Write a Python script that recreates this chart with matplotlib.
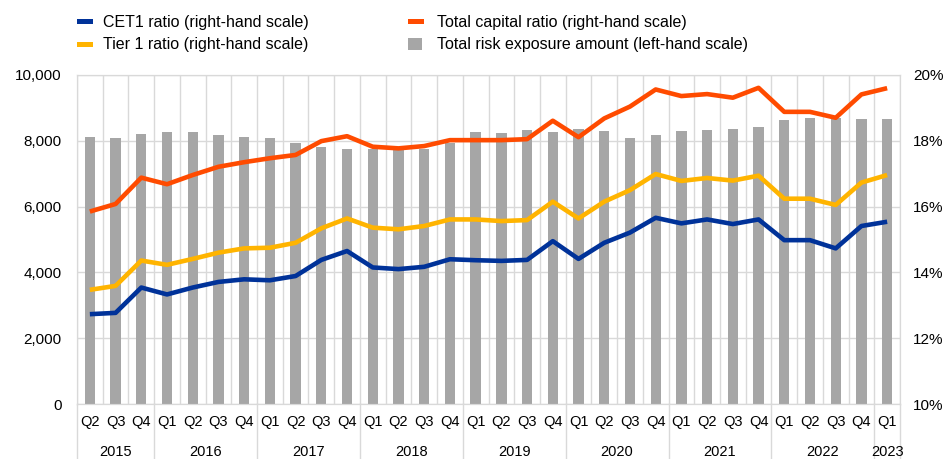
import matplotlib
matplotlib.use("Agg")
import matplotlib.pyplot as plt
from matplotlib.patches import Rectangle
from matplotlib.ticker import FuncFormatter, MultipleLocator
import matplotlib.transforms as mtransforms

plt.rcParams['font.family'] = ['Liberation Sans', 'DejaVu Sans']

quarters = ["Q2", "Q3", "Q4",
            "Q1", "Q2", "Q3", "Q4",
            "Q1", "Q2", "Q3", "Q4",
            "Q1", "Q2", "Q3", "Q4",
            "Q1", "Q2", "Q3", "Q4",
            "Q1", "Q2", "Q3", "Q4",
            "Q1", "Q2", "Q3", "Q4",
            "Q1", "Q2", "Q3", "Q4",
            "Q1"]
years = ["2015", "2016", "2017", "2018", "2019", "2020", "2021", "2022", "2023"]
quarters_per_year = [3, 4, 4, 4, 4, 4, 4, 4, 1]

trea = [8125, 8075, 8197, 8258, 8268, 8176, 8106, 8095, 7933, 7812, 7751,
        7741, 7720, 7751, 7943, 8268, 8237, 8328, 8258, 8370, 8298, 8085,
        8166, 8298, 8339, 8359, 8410, 8642, 8703, 8690, 8652, 8662]
total_capital = [15.85, 16.08, 16.88, 16.68, 16.96, 17.21, 17.35, 17.47, 17.57, 17.99, 18.14,
                 17.82, 17.77, 17.84, 18.02, 18.02, 18.02, 18.05, 18.61, 18.11, 18.68, 19.04,
                 19.56, 19.36, 19.42, 19.31, 19.61, 18.88, 18.88, 18.70, 19.41, 19.60]
tier1 = [13.47, 13.59, 14.36, 14.23, 14.41, 14.60, 14.73, 14.75, 14.90, 15.34, 15.64,
         15.36, 15.31, 15.41, 15.61, 15.61, 15.56, 15.59, 16.15, 15.64, 16.15, 16.50,
         16.99, 16.78, 16.87, 16.79, 16.94, 16.24, 16.24, 16.05, 16.73, 16.96]
cet1 = [12.73, 12.77, 13.54, 13.33, 13.54, 13.71, 13.79, 13.76, 13.89, 14.38, 14.65,
        14.15, 14.10, 14.17, 14.40, 14.37, 14.35, 14.38, 14.95, 14.41, 14.90, 15.21,
        15.66, 15.49, 15.61, 15.47, 15.61, 14.98, 14.98, 14.73, 15.41, 15.54]

BLUE = "#003299"
YELLOW = "#FFB400"
ORANGE = "#FF4B00"
GREY = "#A6A6A6"
GRID = "#D9D9D9"

W, H = 947, 459
fig = plt.figure(figsize=(W / 100, H / 100), dpi=100)
L, R, T, B = 77, 900, 75, 404
ax = fig.add_axes([L / W, 1 - B / H, (R - L) / W, (B - T) / H])
ax2 = ax.twinx()

n = len(quarters)
x = list(range(n))

ax.bar(x, trea, width=0.4, color=GREY, zorder=2)
ax.set_ylim(0, 10000)
ax.set_xlim(-0.5, n - 0.5)
ax.yaxis.set_major_locator(MultipleLocator(2000))
ax.yaxis.set_major_formatter(FuncFormatter(lambda v, p: f"{int(v):,}"))
ax.grid(axis='y', color=GRID, linewidth=1, zorder=0)
ax.set_axisbelow(True)
for b in range(n + 1):
    ax.axvline(b - 0.5, color=GRID, linewidth=1, zorder=0)

ax2.plot(x, cet1, color=BLUE, linewidth=3.3, solid_capstyle='butt', zorder=3)
ax2.plot(x, tier1, color=YELLOW, linewidth=3.3, solid_capstyle='butt', zorder=3)
ax2.plot(x, total_capital, color=ORANGE, linewidth=3.3, solid_capstyle='butt', zorder=3)
ax2.set_ylim(10, 20)
ax2.yaxis.set_major_locator(MultipleLocator(2))
ax2.yaxis.set_major_formatter(FuncFormatter(lambda v, p: f"{int(v)}%"))

for a in (ax, ax2):
    for s in a.spines.values():
        s.set_color(GRID)
    a.tick_params(length=0, labelsize=11, colors="black")
ax.tick_params(axis='y', pad=11)
ax2.tick_params(axis='y', pad=9.5)

ax.set_xticks(x)
ax.set_xticklabels(quarters)
ax.tick_params(axis='x', pad=8, labelsize=10.5)

trans = mtransforms.blended_transform_factory(ax.transData, ax.transAxes)
bottom_frac = -(H - B) / (B - T)
year_y = -(452 - B) / (B - T)
start = 0
for yr, cnt in zip(years, quarters_per_year):
    ax.plot([start - 0.5, start - 0.5], [0, bottom_frac], transform=trans,
            color=GRID, linewidth=1, clip_on=False, zorder=0)
    ax.text(start - 0.5 + cnt / 2, year_y, yr, transform=trans,
            ha='center', va='center', fontsize=10.5)
    start += cnt
ax.plot([start - 0.5, start - 0.5], [0, bottom_frac], transform=trans,
        color=GRID, linewidth=1, clip_on=False, zorder=0)

def px_rect(x0, y0, x1, y1, color):
    fig.add_artist(Rectangle((x0 / W, 1 - y1 / H), (x1 - x0) / W, (y1 - y0) / H,
                             transform=fig.transFigure, color=color, lw=0))

def px_text(x0, yc, s):
    fig.text(x0 / W, 1 - yc / H, s, ha='left', va='center', fontsize=11.5)

px_rect(77, 18.5, 93, 24, BLUE)
px_text(103, 22, "CET1 ratio (right-hand scale)")
px_rect(77, 41.5, 93, 47, YELLOW)
px_text(103, 44.5, "Tier 1 ratio (right-hand scale)")
px_rect(408, 18.5, 424, 24, ORANGE)
px_text(437, 22, "Total capital ratio (right-hand scale)")
px_rect(408, 38, 422, 50, GREY)
px_text(437, 44.5, "Total risk exposure amount (left-hand scale)")

fig.savefig("out.png", dpi=100)
